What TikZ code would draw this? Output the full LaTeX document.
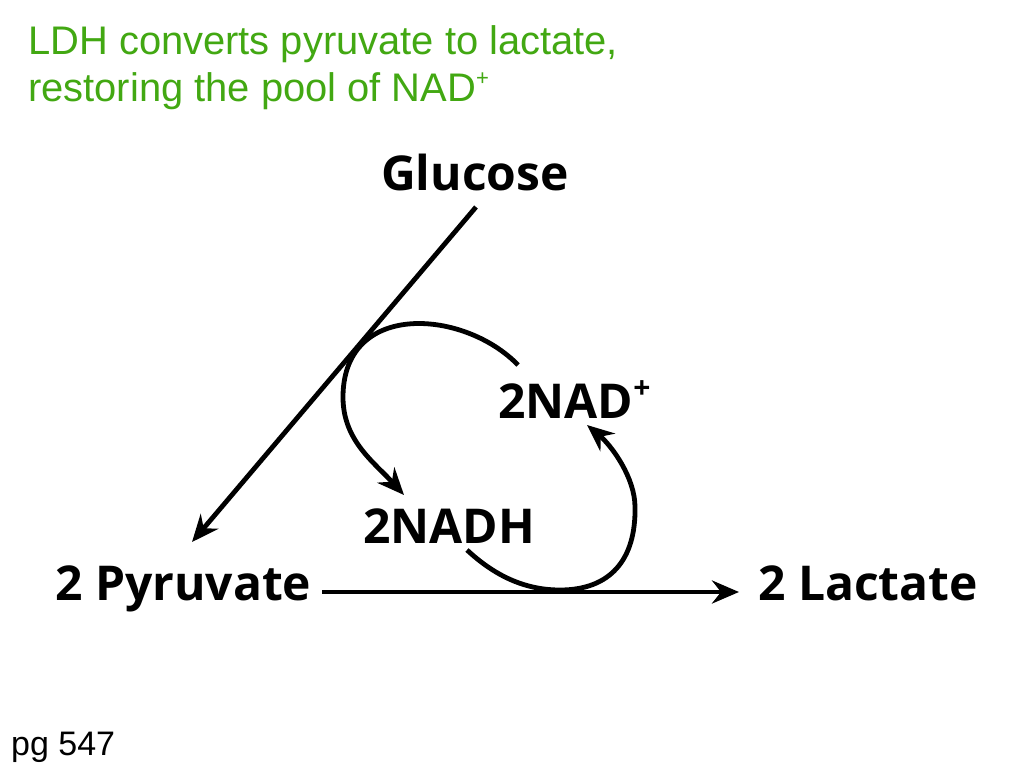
\documentclass[tikz,border=0pt]{standalone}
\usepackage{fontspec}
\setmainfont{Liberation Sans}
\newfontfamily\labfont{Open Sans}
\usetikzlibrary{arrows.meta}
\definecolor{titlegreen}{RGB}{66,168,18}
\tikzset{
  lbl/.style={font=\labfont\bfseries\fontsize{48}{48}\selectfont, inner sep=0pt, anchor=base west},
  ttl/.style={font=\fontsize{39.9}{46}\selectfont, text=titlegreen, inner sep=0pt, anchor=base west},
  conn/.style={line width=4.8pt, -{Stealth[length=27pt, width=23pt, inset=9pt]}},
  plain/.style={line width=4.8pt}
}
\newcommand{\supplus}{\raisebox{0.75ex}{\fontsize{30}{30}\selectfont +}}
\newcommand{\supplust}{\raisebox{0.75ex}{\fontsize{22}{22}\selectfont +}}
\begin{document}
\begin{tikzpicture}[x=1pt,y=-1pt]
\useasboundingbox (0,0) rectangle (1024,768);
\fill[white] (0,0) rectangle (1024,768);
% title
\node[ttl] (t1) at (28,55) {LDH converts pyruvate to lactate,};
\node[ttl] (t2) at (28,101) {restoring the pool of NAD\supplust};
\node[font=\fontsize{34}{34}\selectfont, inner sep=0pt, anchor=base west] (pg) at (11,755) {pg 547};
% labels
\node[lbl] (glu) at (381,190) {Glucose};
\node[lbl] (nad) at (498,418) {2NAD\supplus};
\node[lbl] (nadh) at (363,543) {2NADH};
\node[lbl] (pyr) at (55,600) {2 Pyruvate};
\node[lbl] (lac) at (758,600) {2 Lactate};
% endpoints
\coordinate (gs) at (476,207);
\coordinate (pe) at (192,542);
\coordinate (hs) at (322,592);
\coordinate (he) at (739,592);
\coordinate (c1s) at (518,365);
\coordinate (c1m) at (343,395);
\coordinate (c1e) at (404,495);
\coordinate (c2s) at (467,550);
\coordinate (c2b) at (560,590);
\coordinate (c2r) at (635,507);
\coordinate (c2e) at (587,425);
% connectors
\draw[conn] (gs) -- (pe);
\draw[conn] (hs) -- (he);
\draw[conn] (c1s) .. controls (465,310) and (345,300) .. (c1m)
  .. controls (342,440) and (374,462) .. (c1e);
\draw[conn] (c2s) .. controls (495,576) and (525,590) .. (c2b)
  .. controls (610,590) and (636,560) .. (c2r)
  .. controls (635,478) and (612,446) .. (c2e);
\end{tikzpicture}
\end{document}
